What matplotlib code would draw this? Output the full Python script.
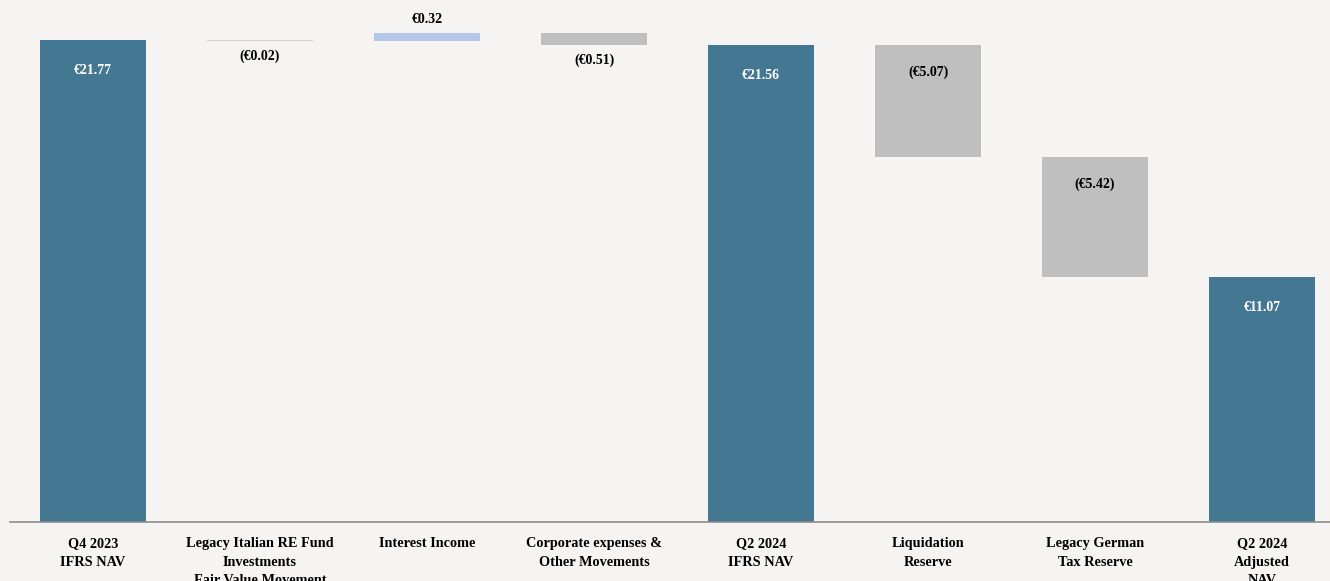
import matplotlib.pyplot as plt

categories = [
    "Q4 2023\nIFRS NAV",
    "Legacy Italian RE Fund\nInvestments\nFair Value Movement",
    "Interest Income",
    "Corporate expenses &\nOther Movements",
    "Q2 2024\nIFRS NAV",
    "Liquidation\nReserve",
    "Legacy German\nTax Reserve",
    "Q2 2024\nAdjusted\nNAV",
]
values = [21.77, -0.02, 0.32, -0.51, 21.56, -5.07, -5.42, 11.07]
is_total = [True, False, False, False, True, False, False, True]

BG = "#f5f4f2"
TEAL = "#447892"
GREY = "#bfbfbf"
BLUE = "#b4c7e7"
THIN = "#d0d0d0"

plt.rcParams["font.family"] = ["Liberation Serif", "DejaVu Serif"]

fig = plt.figure(figsize=(13.3, 5.81), dpi=100, facecolor=BG)
ax = fig.add_axes([10 / 1330, 59 / 581, 1320 / 1330, 522 / 581], facecolor=BG)


def fmt(v):
    return f"€{v:.2f}" if v >= 0 else f"(€{-v:.2f})"


running = 0.0
for i, (v, total) in enumerate(zip(values, is_total)):
    if total:
        bottom, height = 0.0, v
        running = v
        color = TEAL
    else:
        bottom = running + min(v, 0)
        height = abs(v)
        running += v
        color = BLUE if v > 0 else (THIN if abs(v) < 0.1 else GREY)
    ax.bar(i, height, bottom=bottom, width=0.635, color=color)

    top = bottom + height
    label_kw = dict(textcoords="offset points", ha="center", va="center",
                    fontsize=10, fontweight="bold")
    if total:
        ax.annotate(fmt(v), (i, top), xytext=(0, -22), color="white", **label_kw)
    elif v > 0:
        ax.annotate(fmt(v), (i, top), xytext=(0, 10), color="black", **label_kw)
    elif height < 1:
        ax.annotate(fmt(v), (i, bottom), xytext=(0, -11), color="black", **label_kw)
    else:
        ax.annotate(fmt(v), (i, top), xytext=(0, -20), color="black", **label_kw)

ax.set_xlim(-0.497, 7.407)
ax.set_ylim(0, 23.58)
ax.set_xticks(range(len(categories)))
ax.set_xticklabels(categories, fontsize=10.3, fontweight="bold", linespacing=1.55, va="top")
ax.tick_params(axis="x", length=0, pad=11)
ax.set_yticks([])
for side in ["top", "right", "left"]:
    ax.spines[side].set_visible(False)
ax.spines["bottom"].set_color("#8c8c8c")
ax.spines["bottom"].set_linewidth(1.2)

fig.savefig("out.png", dpi=100, facecolor=BG)
